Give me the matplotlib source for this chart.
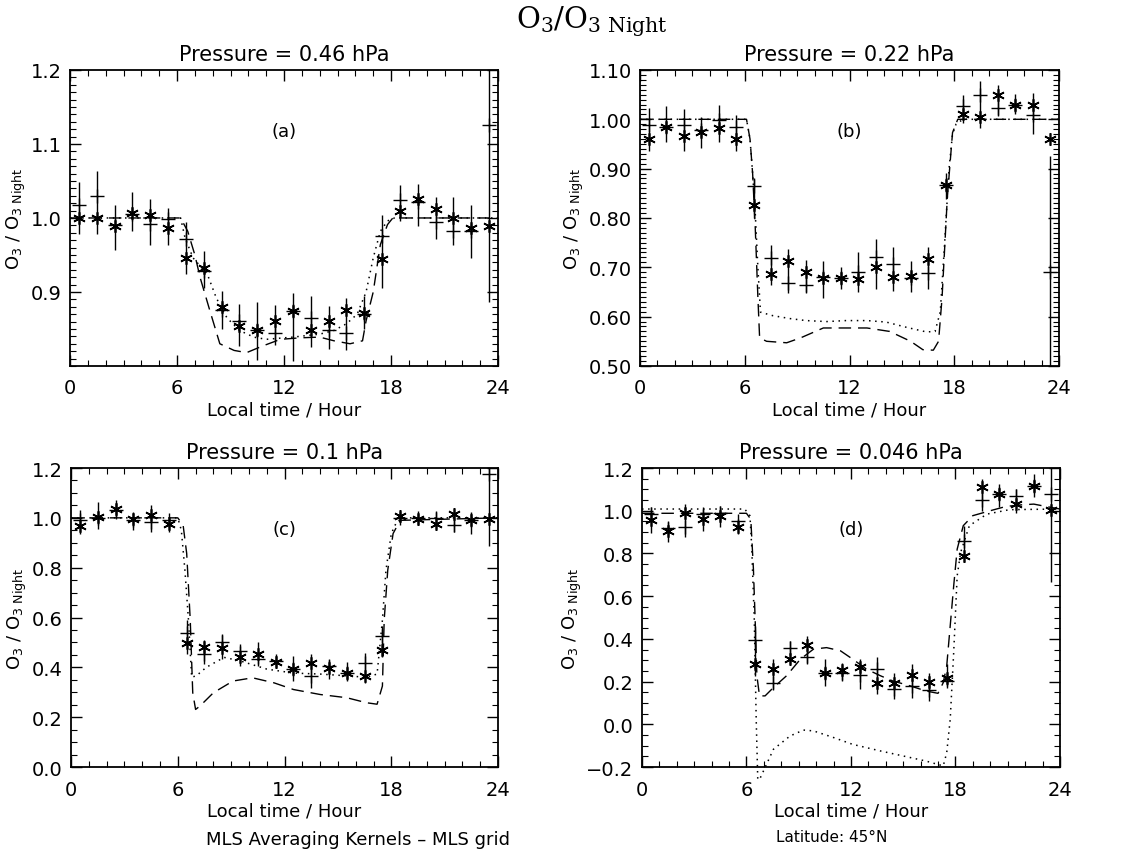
import matplotlib
matplotlib.use('Agg')
import matplotlib.pyplot as plt
from matplotlib.ticker import MultipleLocator, FuncFormatter

plt.rcParams['font.family'] = ['DejaVu Sans']

hours = [0.5, 1.5, 2.5, 3.5, 4.5, 5.5, 6.5, 7.5, 8.5, 9.5, 10.5, 11.5,
         12.5, 13.5, 14.5, 15.5, 16.5, 17.5, 18.5, 19.5, 20.5, 21.5, 22.5, 23.5]

# ---- (a) 0.46 hPa
star_a = [1.000, 1.000, 0.989, 1.007, 1.004, 0.987, 0.946, 0.932, 0.880, 0.854, 0.848, 0.861,
          0.874, 0.848, 0.861, 0.876, 0.872, 0.944, 1.009, 1.025, 1.012, 1.000, 0.987, 0.989]
plus_a = [1.017, 1.030, 0.991, 1.005, 0.992, 0.999, 0.972, 0.929, 0.875, 0.861, 0.849, 0.845,
          0.874, 0.865, 0.849, 0.845, 0.870, 0.975, 1.024, 1.022, 0.995, 0.982, 0.982, 1.126]
lo_a = [0.978, 0.978, 0.957, 0.982, 0.963, 0.964, 0.924, 0.906, 0.850, 0.827, 0.808, 0.829,
        0.807, 0.825, 0.823, 0.822, 0.850, 0.906, 0.996, 0.989, 0.971, 0.963, 0.946, 0.886]
hi_a = [1.049, 1.063, 1.017, 1.035, 1.026, 1.013, 0.995, 0.955, 0.901, 0.884, 0.887, 0.883,
        0.899, 0.894, 0.881, 0.892, 0.894, 1.004, 1.044, 1.046, 1.029, 1.028, 1.017, 1.200]
dash_a_x = [0, 6.2, 6.6, 7.0, 7.3, 7.85, 8.4, 9.2, 9.9, 10.8, 11.8, 12.9, 14.0, 14.8, 15.7,
            16.4, 16.6, 17.0, 17.4, 17.8, 18.1, 24]
dash_a_y = [1.0, 1.0, 0.982, 0.95, 0.919, 0.874, 0.83, 0.821, 0.818, 0.827, 0.836, 0.838, 0.839,
            0.834, 0.83, 0.834, 0.861, 0.90, 0.964, 0.991, 1.0, 1.0]
dot_a_x = [0, 6.2, 6.45, 6.9, 7.7, 8.2, 8.8, 9.5, 10.3, 11.0, 12.5, 14.0, 14.8, 15.5, 16.1,
           16.6, 17.0, 17.4, 17.8, 18.2, 24]
dot_a_y = [1.0, 1.0, 0.973, 0.946, 0.924, 0.892, 0.865, 0.848, 0.839, 0.836, 0.839, 0.843,
           0.848, 0.857, 0.87, 0.90, 0.946, 0.982, 0.996, 1.0, 1.0]

# ---- (b) 0.22 hPa
star_b = [0.961, 0.985, 0.966, 0.974, 0.983, 0.961, 0.827, 0.687, 0.713, 0.691, 0.679, 0.678,
          0.676, 0.701, 0.681, 0.683, 0.717, 0.867, 1.010, 1.005, 1.050, 1.028, 1.028, 0.961]
plus_b = [0.988, 0.985, 0.988, 0.978, 0.999, 0.985, 0.864, 0.718, 0.668, 0.664, 0.681, 0.679,
          0.690, 0.721, 0.707, 0.678, 0.688, 0.867, 1.026, 1.050, 1.023, 1.030, 1.008, 0.691]
lo_b = [0.936, 0.953, 0.936, 0.941, 0.954, 0.935, 0.800, 0.664, 0.647, 0.648, 0.638, 0.655,
        0.650, 0.657, 0.651, 0.649, 0.657, 0.839, 0.993, 0.983, 1.007, 1.010, 0.970, 0.500]
hi_b = [1.023, 1.026, 1.020, 1.005, 1.030, 1.008, 0.882, 0.745, 0.738, 0.715, 0.713, 0.700,
        0.730, 0.758, 0.741, 0.712, 0.741, 0.892, 1.050, 1.077, 1.070, 1.052, 1.053, 0.926]
dash_b_x = [0, 6.1, 6.3, 6.45, 6.6, 6.75, 6.85, 7.25, 8.4, 9.2, 10.5, 11.8, 13.0, 14.3, 15.5,
            16.2, 16.8, 17.1, 17.3, 17.6, 17.9, 18.2, 24]
dash_b_y = [1.0, 1.0, 0.96, 0.89, 0.78, 0.64, 0.557, 0.55, 0.547, 0.557, 0.577, 0.577, 0.577,
            0.57, 0.55, 0.533, 0.532, 0.55, 0.638, 0.84, 0.973, 1.0, 1.0]
dot_b_x = [0, 6.1, 6.3, 6.45, 6.6, 6.75, 6.9, 7.6, 8.6, 9.5, 10.7, 11.8, 13.0, 14.1, 15.3,
           16.4, 16.9, 17.2, 17.45, 17.7, 17.9, 18.1, 18.5, 24]
dot_b_y = [1.0, 1.0, 0.96, 0.89, 0.81, 0.70, 0.609, 0.602, 0.596, 0.592, 0.59, 0.592, 0.592,
           0.589, 0.578, 0.569, 0.57, 0.61, 0.75, 0.90, 0.97, 0.99, 1.0, 1.0]

# ---- (c) 0.1 hPa
star_c = [0.966, 1.004, 1.034, 0.995, 1.011, 0.975, 0.498, 0.480, 0.476, 0.440, 0.453, 0.422,
          0.395, 0.417, 0.399, 0.379, 0.366, 0.469, 1.008, 0.995, 0.977, 1.015, 0.991, 0.997]
plus_c = [0.993, 1.000, 1.030, 0.993, 0.984, 0.993, 0.538, 0.455, 0.503, 0.467, 0.433, 0.426,
          0.395, 0.366, 0.406, 0.379, 0.419, 0.524, 1.000, 1.000, 1.000, 0.973, 0.991, 1.176]
lo_c = [0.937, 0.957, 0.997, 0.950, 0.944, 0.944, 0.455, 0.415, 0.432, 0.406, 0.413, 0.400,
        0.346, 0.319, 0.354, 0.346, 0.339, 0.440, 0.984, 0.977, 0.957, 0.944, 0.937, 0.886]
hi_c = [1.030, 1.064, 1.070, 1.024, 1.051, 1.004, 0.589, 0.509, 0.534, 0.487, 0.503, 0.444,
        0.444, 0.453, 0.431, 0.423, 0.459, 0.567, 1.024, 1.017, 1.024, 1.037, 1.024, 1.200]
dash_c_x = [0, 6.0, 6.3, 6.5, 6.7, 6.84, 7.0, 7.25, 8.0, 9.1, 10.2, 11.4, 12.5, 14.0, 15.5,
            16.6, 17.2, 17.5, 17.6, 17.8, 18.1, 18.5, 24]
dash_c_y = [1.0, 1.0, 0.97, 0.857, 0.59, 0.298, 0.231, 0.245, 0.298, 0.345, 0.358, 0.338,
            0.311, 0.291, 0.278, 0.258, 0.252, 0.325, 0.59, 0.79, 0.937, 0.99, 1.0]
dot_c_x = [0, 6.0, 6.2, 6.4, 6.6, 6.78, 7.06, 7.6, 8.6, 9.5, 11.0, 12.5, 14.0, 15.5, 16.6,
           17.2, 17.5, 17.7, 18.0, 18.3, 18.7, 24]
dot_c_y = [1.0, 1.0, 0.95, 0.79, 0.59, 0.36, 0.367, 0.40, 0.44, 0.426, 0.393, 0.377, 0.373,
           0.366, 0.36, 0.373, 0.59, 0.79, 0.937, 0.984, 1.0, 1.0]

# ---- (d) 0.046 hPa
star_d = [0.956, 0.906, 0.988, 0.961, 0.973, 0.922, 0.281, 0.261, 0.305, 0.370, 0.242, 0.255,
          0.266, 0.192, 0.192, 0.230, 0.198, 0.219, 0.786, 1.109, 1.078, 1.031, 1.117, 1.005]
plus_d = [0.984, 0.920, 0.922, 0.984, 0.988, 0.953, 0.395, 0.195, 0.359, 0.317, 0.242, 0.242,
          0.230, 0.258, 0.164, 0.177, 0.161, 0.203, 0.859, 1.050, 1.078, 1.070, 1.117, 1.078]
lo_d = [0.898, 0.852, 0.875, 0.906, 0.922, 0.890, 0.227, 0.164, 0.281, 0.289, 0.180, 0.203,
        0.167, 0.141, 0.117, 0.125, 0.109, 0.180, 0.758, 1.000, 1.016, 0.990, 1.063, 0.664]
hi_d = [1.016, 0.945, 1.030, 1.008, 1.023, 0.961, 0.461, 0.305, 0.391, 0.414, 0.305, 0.289,
        0.305, 0.317, 0.239, 0.281, 0.242, 0.281, 0.930, 1.148, 1.125, 1.100, 1.172, 1.200]
dash_d_x = [0, 6.0, 6.25, 6.4, 6.5, 6.6, 6.75, 7.07, 7.55, 8.3, 9.1, 9.85, 10.6, 11.4, 12.1,
            12.9, 13.7, 14.4, 15.4, 16.3, 17.0, 17.3, 17.5, 17.7, 17.9, 18.1, 18.45, 19.0,
            20.0, 20.9, 21.7, 22.5, 23.2, 24]
dash_d_y = [0.988, 0.988, 0.96, 0.727, 0.49, 0.227, 0.133, 0.133, 0.172, 0.227, 0.305, 0.352,
            0.359, 0.344, 0.305, 0.258, 0.227, 0.203, 0.18, 0.156, 0.145, 0.195, 0.273, 0.461,
            0.648, 0.82, 0.93, 0.977, 1.0, 1.02, 1.027, 1.031, 1.02, 1.008]
dot_d_x = [0, 5.9, 6.2, 6.3, 6.45, 6.56, 6.65, 6.8, 7.55, 8.5, 9.27, 9.85, 11.0, 12.1, 13.7,
           15.2, 16.3, 17.3, 17.5, 17.7, 17.9, 18.1, 18.3, 18.8, 19.8, 21.1, 24]
dot_d_y = [1.008, 1.008, 0.977, 0.836, 0.49, 0.023, -0.26, -0.25, -0.117, -0.055, -0.027,
           -0.031, -0.062, -0.094, -0.125, -0.152, -0.172, -0.195, -0.133, 0.023, 0.336,
           0.695, 0.805, 0.93, 0.984, 1.005, 1.008]

titles = ['Pressure = 0.46 hPa', 'Pressure = 0.22 hPa', 'Pressure = 0.1 hPa', 'Pressure = 0.046 hPa']
tags = ['(a)', '(b)', '(c)', '(d)']
ylims = [(0.8, 1.2), (0.5, 1.1), (0.0, 1.2), (-0.2, 1.2)]
yticks = [[0.9, 1.0, 1.1, 1.2],
          [0.5, 0.6, 0.7, 0.8, 0.9, 1.0, 1.1],
          [0.0, 0.2, 0.4, 0.6, 0.8, 1.0, 1.2],
          [-0.2, 0.0, 0.2, 0.4, 0.6, 0.8, 1.0, 1.2]]
yminor = [0.01, 0.01, 0.05, 0.05]
ydigits = [1, 2, 1, 1]

panels = [
    (star_a, plus_a, lo_a, hi_a, dash_a_x, dash_a_y, dot_a_x, dot_a_y),
    (star_b, plus_b, lo_b, hi_b, dash_b_x, dash_b_y, dot_b_x, dot_b_y),
    (star_c, plus_c, lo_c, hi_c, dash_c_x, dash_c_y, dot_c_x, dot_c_y),
    (star_d, plus_d, lo_d, hi_d, dash_d_x, dash_d_y, dot_d_x, dot_d_y),
]

positions = [
    [0.0618, 0.5703, 0.3778, 0.3466],
    [0.5649, 0.5703, 0.3698, 0.3466],
    [0.0627, 0.1007, 0.3769, 0.3501],
    [0.5666, 0.1007, 0.3689, 0.3501],
]


def make_fmt(nd):
    return FuncFormatter(lambda v, p: f'{v:.{nd}f}'.replace('-', '\u2212'))


fig = plt.figure(figsize=(11.33, 8.54), dpi=100)

for i, (star, plus, lo, hi, dx, dy, ox, oy) in enumerate(panels):
    ax = fig.add_axes(positions[i])
    ax.plot(dx, dy, color='k', lw=1.0, ls=(0, (9, 5)))
    ax.plot(ox, oy, color='k', lw=1.1, ls=(0, (1, 3)), clip_on=(i != 3))
    ax.vlines(hours, lo, hi, color='k', lw=1.0)
    ax.plot(hours, star, ls='none', marker=(6, 2, 0), ms=9, mew=1.2, color='k')
    ax.plot(hours, plus, ls='none', marker='+', ms=10, mew=1.0, color='k')

    ax.set_xlim(0, 24)
    ax.set_ylim(*ylims[i])
    ax.set_xticks([0, 6, 12, 18, 24])
    ax.xaxis.set_minor_locator(MultipleLocator(1))
    ax.set_yticks(yticks[i])
    ax.yaxis.set_minor_locator(MultipleLocator(yminor[i]))
    ax.yaxis.set_major_formatter(make_fmt(ydigits[i]))
    ax.tick_params(which='both', direction='in', top=True, right=True, labelsize=14)
    ax.tick_params(which='major', length=8, width=1.0)
    ax.tick_params(which='minor', length=4, width=0.8)
    ax.tick_params(axis='x', pad=9)
    ax.tick_params(axis='y', pad=6)
    for s in ax.spines.values():
        s.set_linewidth(1.3)

    ax.set_title(titles[i], fontsize=15, pad=7)
    ax.set_xlabel('Local time / Hour', fontsize=13, labelpad=2)
    ax.set_ylabel(r'O$_3$ / O$_{3\ \mathregular{Night}}$', fontsize=13, labelpad=2)
    ax.text(0.5, 0.795, tags[i], transform=ax.transAxes, ha='center', va='center', fontsize=13)

fig.text(0.522, 0.975, r'$\mathrm{O_3/O_{3\ Night}}$', ha='center', va='center',
         fontsize=21, math_fontfamily='dejavuserif')
fig.text(0.316, 0.016, 'MLS Averaging Kernels \u2013 MLS grid', ha='center', va='center', fontsize=13)
fig.text(0.734, 0.019, 'Latitude: 45\u00b0N', ha='center', va='center', fontsize=11)

fig.savefig('out.png', dpi=100)
